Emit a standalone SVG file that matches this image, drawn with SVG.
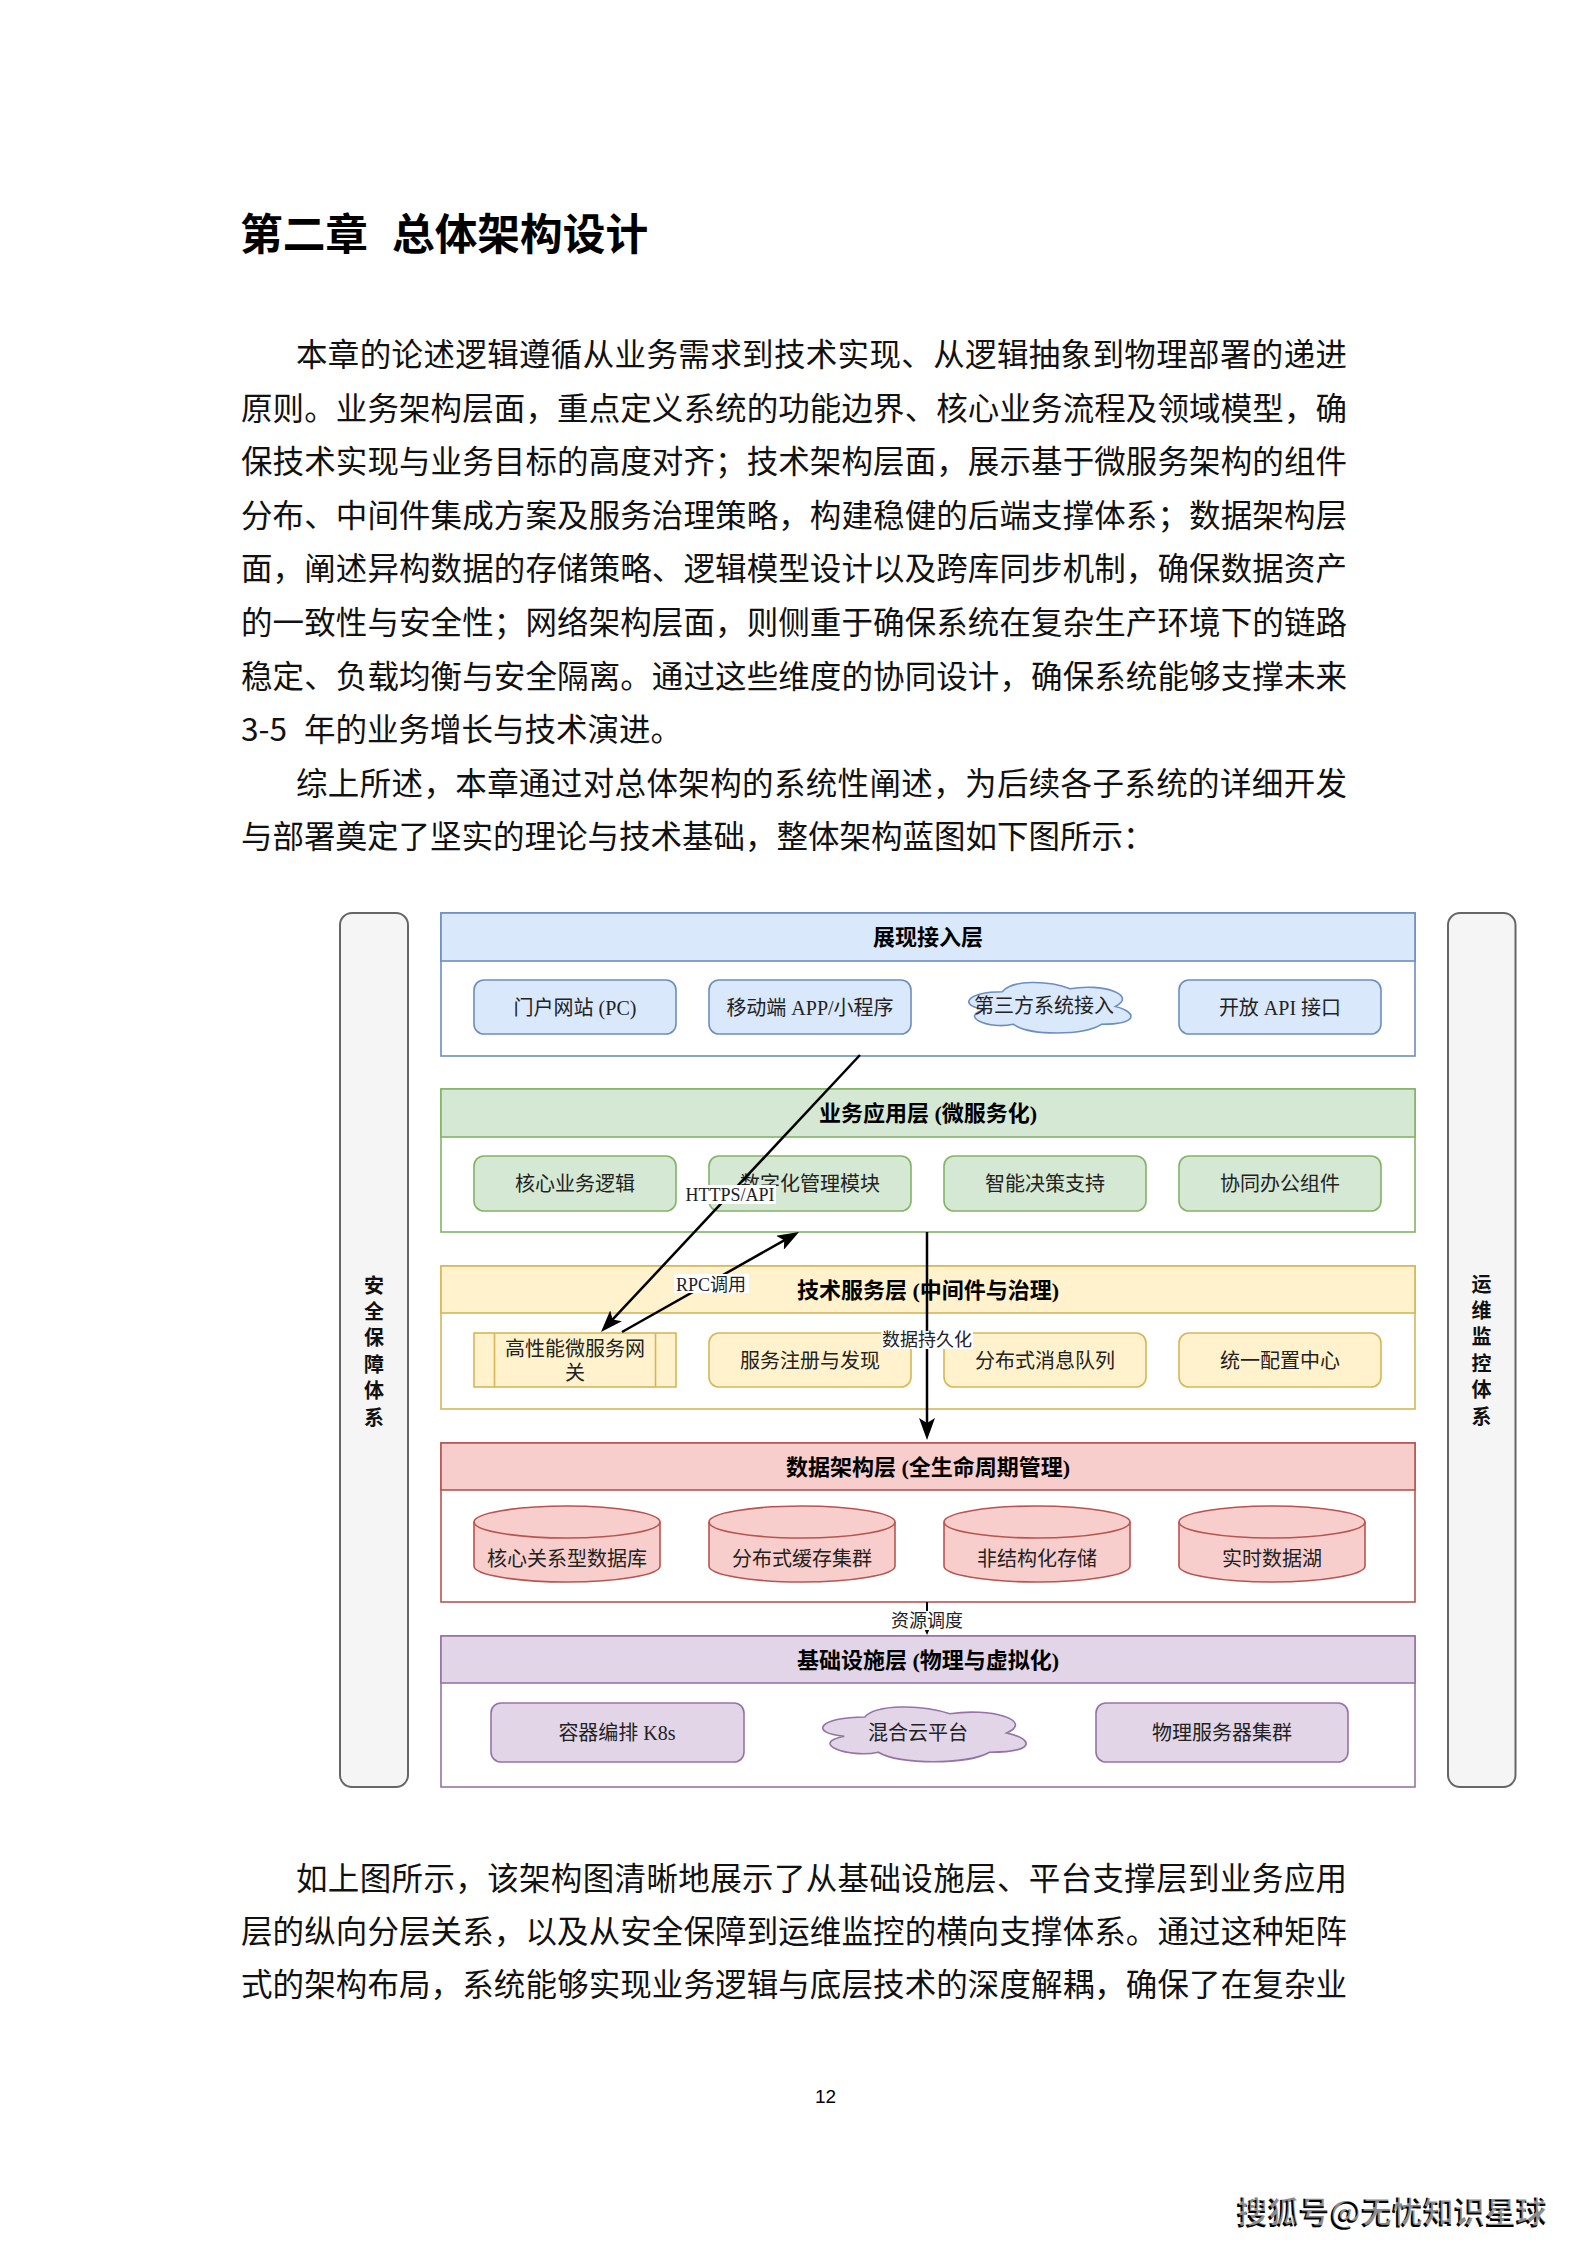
<svg xmlns="http://www.w3.org/2000/svg" width="1587" height="2245" viewBox="0 0 1587 2245">
<defs>
<style>
.body{font-family:"Noto Sans CJK SC",sans-serif;font-size:31.5px;fill:#111}
.title{font-family:"Noto Sans CJK SC",sans-serif;font-size:42.7px;font-weight:bold;fill:#000}
.hdr{font-family:"Liberation Serif","Noto Sans CJK SC",serif;font-size:22px;font-weight:bold;text-anchor:middle;fill:#000}
.lbl{font-family:"Liberation Serif","Noto Sans CJK SC",serif;font-size:20px;text-anchor:middle;fill:#222}
.side{font-family:"Noto Sans CJK SC",sans-serif;font-size:20px;font-weight:bold;text-anchor:middle;fill:#111}
.elbl{font-family:"Liberation Serif","Noto Sans CJK SC",serif;font-size:18px;text-anchor:middle;fill:#222}
.bar{fill:#f5f5f5;stroke:#666;stroke-width:2}
.blue{fill:#dae8fc;stroke:#6c8ebf;stroke-width:1.6}
.green{fill:#d5e8d4;stroke:#82b366;stroke-width:1.6}
.yellow{fill:#fff2cc;stroke:#d6b656;stroke-width:1.6}
.red{fill:#f8cecc;stroke:#b85450;stroke-width:1.6}
.purple{fill:#e1d5e7;stroke:#9673a6;stroke-width:1.6}
.edge{stroke:#000;stroke-width:2.5;fill:none}
.lbg{fill:#fff}
</style>
<marker id="arr" viewBox="0 0 22 16" refX="10" refY="8" markerWidth="22" markerHeight="16" markerUnits="userSpaceOnUse" orient="auto">
<path d="M0,0 L22,8 L0,16 L5,8 z" fill="#000"/>
</marker>
<marker id="arrs" viewBox="0 0 8 7" refX="4" refY="3.5" markerWidth="8" markerHeight="7" markerUnits="userSpaceOnUse" orient="auto">
<path d="M0,0 L8,3.5 L0,7 L2,3.5 z" fill="#000"/>
</marker>
</defs>
<rect x="0" y="0" width="1587" height="2245" fill="#fff"/>

<g id="page-text">
<text class="title" x="240" y="250"><tspan>第二章</tspan><tspan x="392">总体架构设计</tspan></text>
<text class="body" x="296" y="366" textLength="1051" lengthAdjust="spacing">本章的论述逻辑遵循从业务需求到技术实现、从逻辑抽象到物理部署的递进</text>
<text class="body" x="241" y="419.6" textLength="1106" lengthAdjust="spacing">原则。业务架构层面，重点定义系统的功能边界、核心业务流程及领域模型，确</text>
<text class="body" x="241" y="473.2" textLength="1106" lengthAdjust="spacing">保技术实现与业务目标的高度对齐；技术架构层面，展示基于微服务架构的组件</text>
<text class="body" x="241" y="526.8" textLength="1106" lengthAdjust="spacing">分布、中间件集成方案及服务治理策略，构建稳健的后端支撑体系；数据架构层</text>
<text class="body" x="241" y="580.4" textLength="1106" lengthAdjust="spacing">面，阐述异构数据的存储策略、逻辑模型设计以及跨库同步机制，确保数据资产</text>
<text class="body" x="241" y="634" textLength="1106" lengthAdjust="spacing">的一致性与安全性；网络架构层面，则侧重于确保系统在复杂生产环境下的链路</text>
<text class="body" x="241" y="687.6" textLength="1106" lengthAdjust="spacing">稳定、负载均衡与安全隔离。通过这些维度的协同设计，确保系统能够支撑未来</text>
<text class="body" x="241" y="741.2"><tspan textLength="46" lengthAdjust="spacingAndGlyphs">3-5</tspan><tspan x="304">年的业务增长与技术演进。</tspan></text>
<text class="body" x="296" y="794.8" textLength="1051" lengthAdjust="spacing">综上所述，本章通过对总体架构的系统性阐述，为后续各子系统的详细开发</text>
<text class="body" x="241" y="848.4">与部署奠定了坚实的理论与技术基础，整体架构蓝图如下图所示：</text>
<text class="body" x="296" y="1890" textLength="1051" lengthAdjust="spacing">如上图所示，该架构图清晰地展示了从基础设施层、平台支撑层到业务应用</text>
<text class="body" x="241" y="1943" textLength="1106" lengthAdjust="spacing">层的纵向分层关系，以及从安全保障到运维监控的横向支撑体系。通过这种矩阵</text>
<text class="body" x="241" y="1996" textLength="1106" lengthAdjust="spacing">式的架构布局，系统能够实现业务逻辑与底层技术的深度解耦，确保了在复杂业</text>
<text x="825.5" y="2103" font-family="Liberation Sans, sans-serif" font-size="19" text-anchor="middle" fill="#000">12</text>
<text x="1236" y="2224" font-family="Noto Sans CJK SC, sans-serif" font-size="31" font-weight="bold" fill="#000">搜狐号@无忧知识星球</text>
<text x="1238" y="2222" font-family="Noto Sans CJK SC, sans-serif" font-size="31" font-weight="bold" fill="#fff" opacity="0.55">搜狐号@无忧知识星球</text>
</g>

<g id="security-bar">
<rect class="bar" x="340" y="913" width="68" height="874" rx="12"/>
<text class="side" x="374"><tspan x="374" y="1292.6">安</tspan><tspan x="374" y="1319">全</tspan><tspan x="374" y="1345.4">保</tspan><tspan x="374" y="1371.8">障</tspan><tspan x="374" y="1398.2">体</tspan><tspan x="374" y="1424.6">系</tspan></text>
</g>
<g id="ops-bar">
<rect class="bar" x="1448" y="913" width="67.5" height="874" rx="12"/>
<text class="side" x="1481.5"><tspan x="1481.5" y="1291.6">运</tspan><tspan x="1481.5" y="1318">维</tspan><tspan x="1481.5" y="1344.4">监</tspan><tspan x="1481.5" y="1370.8">控</tspan><tspan x="1481.5" y="1397.2">体</tspan><tspan x="1481.5" y="1423.6">系</tspan></text>
</g>

<g id="layer-presentation">
<rect class="blue" x="441" y="913" width="974" height="143" style="fill:#fff"/>
<rect class="blue" x="441" y="913" width="974" height="48"/>
<text class="hdr" x="928" y="945.4">展现接入层</text>
</g>
<g id="node-portal"><rect class="blue" x="474" y="980" width="202" height="54" rx="10"/><text class="lbl" x="575" y="1014.6">门户网站 (PC)</text></g>
<g id="node-mobile"><rect class="blue" x="709" y="980" width="202" height="54" rx="10"/><text class="lbl" x="810" y="1014.6">移动端 APP/小程序</text></g>
<g id="node-thirdparty"><path class="blue" d="M1002.25,991.75 C966.05,991.75 957,1006.5 985.96,1009.45 C957,1015.94 989.58,1030.1 1013.11,1024.2 C1029.4,1036 1083.7,1036 1101.8,1024.2 C1138,1024.2 1138,1012.4 1115.4,1006.5 C1138,994.7 1101.8,982.9 1070.1,988.8 C1047.5,979.95 1011.3,979.95 1002.25,991.75 Z"/><text class="lbl" x="1044" y="1012.6">第三方系统接入</text></g>
<g id="node-openapi"><rect class="blue" x="1179" y="980" width="202" height="54" rx="10"/><text class="lbl" x="1280" y="1014.6">开放 API 接口</text></g>

<g id="layer-business">
<rect class="green" x="441" y="1089" width="974" height="143" style="fill:#fff"/>
<rect class="green" x="441" y="1089" width="974" height="48"/>
<text class="hdr" x="928" y="1121.4">业务应用层 (微服务化)</text>
</g>
<g id="node-core"><rect class="green" x="474" y="1156" width="202" height="55" rx="10"/><text class="lbl" x="575" y="1191">核心业务逻辑</text></g>
<g id="node-digital"><rect class="green" x="709" y="1156" width="202" height="55" rx="10"/><text class="lbl" x="810" y="1191">数字化管理模块</text></g>
<g id="node-decision"><rect class="green" x="944" y="1156" width="202" height="55" rx="10"/><text class="lbl" x="1045" y="1191">智能决策支持</text></g>
<g id="node-office"><rect class="green" x="1179" y="1156" width="202" height="55" rx="10"/><text class="lbl" x="1280" y="1191">协同办公组件</text></g>

<g id="layer-tech">
<rect class="yellow" x="441" y="1266" width="974" height="143" style="fill:#fff"/>
<rect class="yellow" x="441" y="1266" width="974" height="47"/>
<text class="hdr" x="928" y="1297.9">技术服务层 (中间件与治理)</text>
</g>
<g id="node-gateway"><rect class="yellow" x="474" y="1333" width="202" height="54"/><line x1="494.5" y1="1333" x2="494.5" y2="1387" stroke="#d6b656" stroke-width="1.6"/><line x1="655.5" y1="1333" x2="655.5" y2="1387" stroke="#d6b656" stroke-width="1.6"/><text class="lbl" x="575" y="1355.6">高性能微服务网</text><text class="lbl" x="575" y="1380.3">关</text></g>
<g id="node-registry"><rect class="yellow" x="709" y="1333" width="202" height="54" rx="10"/><text class="lbl" x="810" y="1367.6">服务注册与发现</text></g>
<g id="node-mq"><rect class="yellow" x="944" y="1333" width="202" height="54" rx="10"/><text class="lbl" x="1045" y="1367.6">分布式消息队列</text></g>
<g id="node-config"><rect class="yellow" x="1179" y="1333" width="202" height="54" rx="10"/><text class="lbl" x="1280" y="1367.6">统一配置中心</text></g>

<g id="layer-data">
<rect class="red" x="441" y="1443" width="974" height="159" style="fill:#fff"/>
<rect class="red" x="441" y="1443" width="974" height="47"/>
<text class="hdr" x="928" y="1474.9">数据架构层 (全生命周期管理)</text>
</g>
<g id="node-rdb"><path class="red" d="M474,1522 A93,16 0 0,1 660,1522 V1566 A93,16 0 0,1 474,1566 Z"/><path d="M474,1522 A93,16 0 0,0 660,1522" fill="none" stroke="#b85450" stroke-width="1.6"/><text class="lbl" x="567" y="1565.6">核心关系型数据库</text></g>
<g id="node-cache"><path class="red" d="M709,1522 A93,16 0 0,1 895,1522 V1566 A93,16 0 0,1 709,1566 Z"/><path d="M709,1522 A93,16 0 0,0 895,1522" fill="none" stroke="#b85450" stroke-width="1.6"/><text class="lbl" x="802" y="1565.6">分布式缓存集群</text></g>
<g id="node-unstructured"><path class="red" d="M944,1522 A93,16 0 0,1 1130,1522 V1566 A93,16 0 0,1 944,1566 Z"/><path d="M944,1522 A93,16 0 0,0 1130,1522" fill="none" stroke="#b85450" stroke-width="1.6"/><text class="lbl" x="1037" y="1565.6">非结构化存储</text></g>
<g id="node-datalake"><path class="red" d="M1179,1522 A93,16 0 0,1 1365,1522 V1566 A93,16 0 0,1 1179,1566 Z"/><path d="M1179,1522 A93,16 0 0,0 1365,1522" fill="none" stroke="#b85450" stroke-width="1.6"/><text class="lbl" x="1272" y="1565.6">实时数据湖</text></g>

<g id="layer-infra">
<rect class="purple" x="441" y="1636" width="974" height="151" style="fill:#fff"/>
<rect class="purple" x="441" y="1636" width="974" height="47"/>
<text class="hdr" x="928" y="1667.9">基础设施层 (物理与虚拟化)</text>
</g>
<g id="node-k8s"><rect class="purple" x="491" y="1703" width="253" height="59" rx="10"/><text class="lbl" x="617" y="1740.2">容器编排 K8s</text></g>
<g id="node-hybridcloud"><path class="purple" d="M864.75,1717 C819.35,1717 808,1733 844.32,1736.2 C808,1743.24 848.86,1758.6 878.37,1752.2 C898.8,1765 966.9,1765 989.6,1752.2 C1035,1752.2 1035,1739.4 1006.6,1733 C1035,1720.2 989.6,1707.4 949.9,1713.8 C921.5,1704.2 876.1,1704.2 864.75,1717 Z"/><text class="lbl" x="918" y="1740.2">混合云平台</text></g>
<g id="node-servers"><rect class="purple" x="1096" y="1703" width="252" height="59" rx="10"/><text class="lbl" x="1222" y="1740.2">物理服务器集群</text></g>

<g id="connectors">
<line class="edge" x1="860" y1="1055" x2="609.2" y2="1323.2" marker-end="url(#arr)"/>
<rect class="lbg" x="684" y="1185" width="92" height="19"/>
<text class="elbl" x="730" y="1201">HTTPS/API</text>
<line class="edge" x1="622" y1="1332" x2="788.6" y2="1237.9" marker-end="url(#arr)"/>
<rect class="lbg" x="674" y="1274" width="75" height="19"/>
<text class="elbl" x="711" y="1290.5">RPC调用</text>
<line class="edge" x1="927" y1="1232" x2="927" y2="1428" marker-end="url(#arr)"/>
<rect class="lbg" x="881" y="1331" width="92" height="18"/>
<text class="elbl" x="927" y="1346">数据持久化</text>
<line x1="927" y1="1602" x2="927" y2="1631" stroke="#000" stroke-width="2" marker-end="url(#arrs)"/>
<rect class="lbg" x="890" y="1611" width="74" height="19"/>
<text class="elbl" x="927" y="1627">资源调度</text>
</g>
</svg>
